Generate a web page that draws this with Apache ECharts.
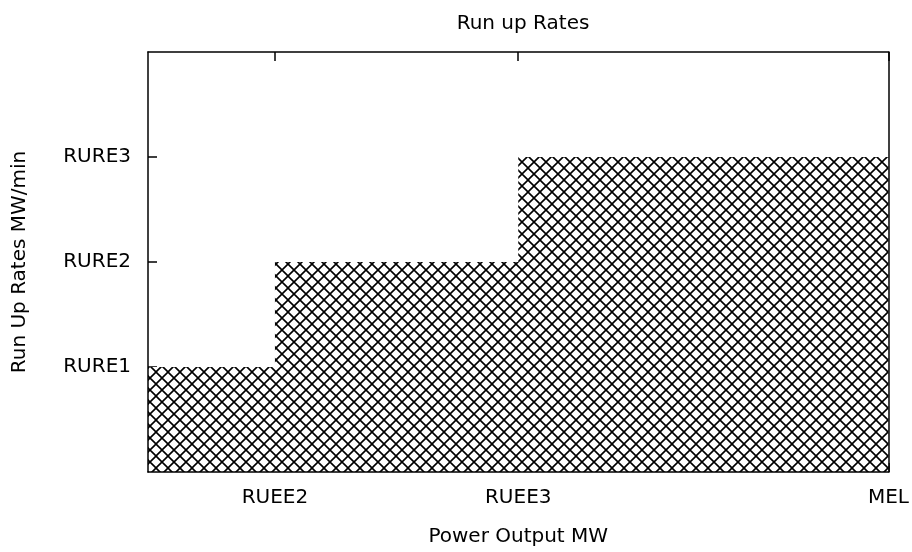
<!DOCTYPE html>
<html>
<head>
<meta charset="utf-8">
<script src="https://cdn.jsdelivr.net/npm/echarts@6/dist/echarts.min.js"></script>
<style>
  html, body { margin: 0; padding: 0; background: #fff; }
  #chart { width: 912px; height: 552px; }
</style>
</head>
<body>
<div id="chart"></div>
<script>
// Run-up rate staircase: rate level held between power breakpoints
const xBreaks = [0, 60, 60, 175, 175, 350];
const yRates = [1, 1, 2, 2, 3, 3];

// Axis tick positions and their labels
const xTickValues = [60, 175, 350];
const xTickLabels = ['RUEE2', 'RUEE3', 'MEL'];
const yTickValues = [1, 2, 3];
const yTickLabels = ['RURE1', 'RURE2', 'RURE3'];

const FONT = 'DejaVu Sans';
const FS = 20;

// Cross-hatch tile used to fill the area under the steps
function hatchTile() {
  const s = 12;
  const c = document.createElement('canvas');
  c.width = s; c.height = s;
  const g = c.getContext('2d');
  g.fillStyle = '#fff';
  g.fillRect(0, 0, s, s);
  g.strokeStyle = '#000';
  g.lineWidth = 1.6;
  g.beginPath();
  g.moveTo(-1, -1); g.lineTo(s + 1, s + 1);
  g.moveTo(-1, s + 1); g.lineTo(s + 1, -1);
  g.stroke();
  return c;
}

const data = xBreaks.map((x, i) => [x, yRates[i]]);
const xMap = {}; xTickValues.forEach((v, i) => { xMap[v] = xTickLabels[i]; });
const yMap = {}; yTickValues.forEach((v, i) => { yMap[v] = yTickLabels[i]; });

const lineOnly = { show: true, onZero: false, lineStyle: { color: '#000', width: 1.5 } };

const chart = echarts.init(document.getElementById('chart'), null, { renderer: 'canvas' });
chart.setOption({
  animation: false,
  backgroundColor: '#fff',
  title: {
    text: 'Run up Rates',
    left: 518, top: 9, textAlign: 'center',
    textStyle: { fontFamily: FONT, fontSize: FS, fontWeight: 'normal', color: '#000' }
  },
  grid: { left: 148, right: 23, top: 52, bottom: 80 },
  xAxis: [
    {
      type: 'value', min: 0, max: 350, position: 'bottom', z: 0,
      name: 'Power Output MW', nameLocation: 'middle', nameGap: 55,
      nameTextStyle: { fontFamily: FONT, fontSize: FS, color: '#000' },
      axisLine: { show: false },
      splitLine: { show: false },
      axisTick: { show: true, inside: true, length: 9, customValues: xTickValues, lineStyle: { color: '#000', width: 1.5 } },
      axisLabel: {
        customValues: xTickValues, margin: 16,
        formatter: v => xMap[v] || '',
        fontFamily: FONT, fontSize: FS, color: '#000'
      }
    },
    {
      type: 'value', min: 0, max: 350, position: 'top', z: 10,
      axisLine: lineOnly,
      splitLine: { show: false },
      axisTick: { show: true, inside: true, length: 9, customValues: xTickValues, lineStyle: { color: '#000', width: 1.5 } },
      axisLabel: { show: false }
    },
    {
      type: 'value', min: 0, max: 350, position: 'bottom', z: 10,
      axisLine: lineOnly, splitLine: { show: false },
      axisTick: { show: false }, axisLabel: { show: false }
    }
  ],
  yAxis: [
    {
      type: 'value', min: 0, max: 4, interval: 1, position: 'left', z: 0,
      name: 'Run Up Rates MW/min', nameLocation: 'middle', nameGap: 118,
      nameTextStyle: { fontFamily: FONT, fontSize: FS, color: '#000' },
      axisLine: { show: false },
      splitLine: { show: false },
      axisTick: { show: true, inside: true, length: 9, customValues: yTickValues, lineStyle: { color: '#000', width: 1.5 } },
      axisLabel: {
        customValues: yTickValues, margin: 17,
        formatter: v => yMap[v] || '',
        fontFamily: FONT, fontSize: FS, color: '#000'
      }
    },
    {
      type: 'value', min: 0, max: 4, interval: 1, position: 'right', z: 10,
      axisLine: lineOnly, splitLine: { show: false },
      axisTick: { show: false }, axisLabel: { show: false }
    },
    {
      type: 'value', min: 0, max: 4, interval: 1, position: 'left', z: 10,
      axisLine: lineOnly, splitLine: { show: false },
      axisTick: { show: false }, axisLabel: { show: false }
    }
  ],
  series: [{
    type: 'line',
    xAxisIndex: 0, yAxisIndex: 0,
    data: data,
    z: 5,
    showSymbol: false,
    symbol: 'none',
    lineStyle: { width: 0, color: '#000' },
    areaStyle: { color: { image: hatchTile(), repeat: 'repeat' }, opacity: 1 }
  }]
});
</script>
</body>
</html>
